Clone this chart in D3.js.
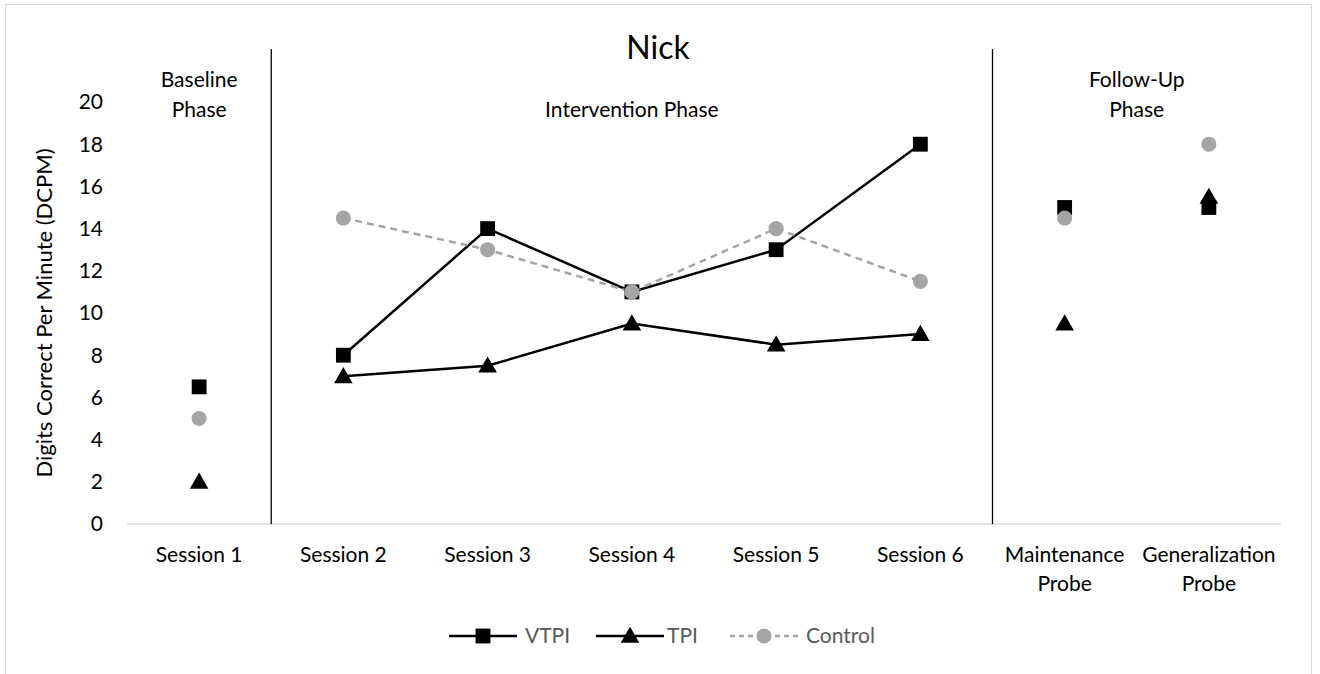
<!DOCTYPE html>
<html lang="en">
<head>
  <meta charset="UTF-8">
  <title>Nick</title>
  <style>
    body { margin: 0; background: #fff; }
    text { font-family: Lato, "Open Sans", sans-serif; }
  </style>
</head>
<body>
  <svg id="chart" width="1320" height="674"></svg>
  <script src="https://d3js.org/d3.v7.min.js"></script>
  <script>
    const categories = ['Session 1', 'Session 2', 'Session 3', 'Session 4', 'Session 5', 'Session 6', 'Maintenance\nProbe', 'Generalization\nProbe'];
    const vtpi = [6.5, 8, 14, 11, 13, 18, 15, 15];
    const tpi = [2, 7, 7.5, 9.5, 8.5, 9, 9.5, 15.5];
    const control = [5, 14.5, 13, 11, 14, 11.5, 14.5, 18];
    const yTicks = [0, 2, 4, 6, 8, 10, 12, 14, 16, 18, 20];
    // which categories belong to the intervention phase (joined by lines)
    const linked = [1, 2, 3, 4, 5];
    const phases = [
      { label: ['Baseline', 'Phase'], from: 0, to: 0 },
      { label: ['Intervention Phase'], from: 1, to: 5 },
      { label: ['Follow-Up', 'Phase'], from: 6, to: 7 }
    ];

    const GRAY = '#a5a5a5';
    const FS = 21;
    const margin = { top: 102, left: 127 };
    const innerW = 1281 - margin.left;
    const innerH = 524 - margin.top;

    const svg = d3.select('#chart');
    // outer frame
    svg.append('rect')
      .attr('x', 5.5).attr('y', 4.5)
      .attr('width', 1306).attr('height', 672)
      .attr('fill', 'none').attr('stroke', '#d9d9d9');

    const g = svg.append('g').attr('transform', `translate(${margin.left},${margin.top})`);

    const x = d3.scaleBand().domain(d3.range(categories.length)).range([0, innerW]);
    const y = d3.scaleLinear().domain([0, 20]).range([innerH, 0]);
    const cx = i => x(i) + x.bandwidth() / 2;

    // y tick labels
    g.selectAll('.ytick').data(yTicks).enter().append('text')
      .attr('x', -24).attr('y', d => y(d)).attr('dy', '0.35em')
      .attr('text-anchor', 'end').attr('font-size', FS).attr('fill', '#000')
      .text(d => d);

    // x axis line
    g.append('line').attr('x1', 0).attr('x2', innerW)
      .attr('y1', innerH).attr('y2', innerH)
      .attr('stroke', '#d9d9d9').attr('stroke-width', 1.5);

    // x labels
    const xl = g.selectAll('.xlab').data(categories).enter().append('text')
      .attr('text-anchor', 'middle').attr('font-size', FS).attr('fill', '#000')
      .attr('transform', (d, i) => `translate(${cx(i)},${562 - margin.top})`);
    xl.selectAll('tspan').data(d => d.split('\n')).enter().append('tspan')
      .attr('x', 0).attr('dy', (d, i) => i === 0 ? 0 : 29).text(d => d);

    // phase divider lines
    [1, 6].forEach(i => {
      g.append('line').attr('x1', x(i)).attr('x2', x(i))
        .attr('y1', 49 - margin.top).attr('y2', innerH)
        .attr('stroke', '#000').attr('stroke-width', 1.3);
    });

    // phase labels
    phases.forEach(p => {
      const px = (cx(p.from) + cx(p.to)) / 2;
      const t = g.append('text').attr('text-anchor', 'middle')
        .attr('font-size', FS).attr('fill', '#000')
        .attr('transform', `translate(${px},${(p.label.length === 2 ? 87 : 117) - margin.top})`);
      t.selectAll('tspan').data(p.label).enter().append('tspan')
        .attr('x', 0).attr('dy', (d, i) => i === 0 ? 0 : 30).text(d => d);
    });

    // title
    svg.append('text').attr('x', 658).attr('y', 59).attr('text-anchor', 'middle')
      .attr('font-size', 32).attr('fill', '#000').text('Nick');

    // y axis title
    svg.append('text').attr('transform', `translate(52,${margin.top + innerH / 2}) rotate(-90)`)
      .attr('text-anchor', 'middle').attr('font-size', 22).attr('fill', '#000')
      .text('Digits Correct Per Minute (DCPM)');

    const series = [
      { name: 'VTPI', values: vtpi, color: '#000', dash: null, symbol: d3.symbolSquare, size: 220 },
      { name: 'TPI', values: tpi, color: '#000', dash: null, symbol: d3.symbolTriangle, size: 150 },
      { name: 'Control', values: control, color: GRAY, dash: '7,5', symbol: d3.symbolCircle, size: 180 }
    ];

    const lineGen = d3.line().x(i => cx(i));
    series.forEach(s => {
      g.append('path')
        .attr('d', lineGen.y(i => y(s.values[i]))(linked))
        .attr('fill', 'none').attr('stroke', s.color).attr('stroke-width', 2.5)
        .attr('stroke-dasharray', s.dash);
    });
    series.forEach(s => {
      g.selectAll(null).data(s.values).enter().append('path')
        .attr('d', d3.symbol().type(s.symbol).size(s.size))
        .attr('transform', (d, i) => `translate(${cx(i)},${y(d) + (s.symbol === d3.symbolTriangle ? 1.5 : 0)})`)
        .attr('fill', s.color);
    });

    // legend
    const legendX = [449, 596, 730];
    const legendTextX = [525, 667, 806];
    series.forEach((s, k) => {
      const lg = svg.append('g').attr('transform', `translate(${legendX[k]},636)`);
      lg.append('line').attr('x1', 0).attr('x2', 68).attr('y1', 0).attr('y2', 0)
        .attr('stroke', s.color).attr('stroke-width', 2.5).attr('stroke-dasharray', s.dash ? '5,4' : null);
      lg.append('path').attr('d', d3.symbol().type(s.symbol).size(s.size))
        .attr('transform', `translate(34,${s.symbol === d3.symbolTriangle ? 1.5 : 0})`).attr('fill', s.color);
      svg.append('text').attr('x', legendTextX[k]).attr('y', 636).attr('dy', '0.35em')
        .attr('font-size', FS).attr('fill', '#595959').text(s.name);
    });
  </script>
</body>
</html>
